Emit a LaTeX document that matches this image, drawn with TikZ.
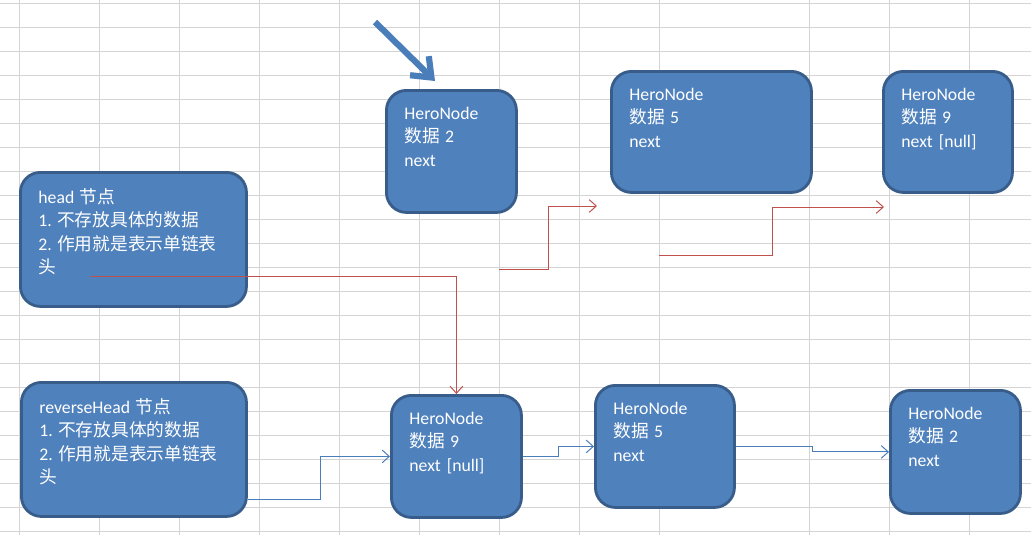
\documentclass[tikz,border=0pt]{standalone}
\usepackage{fontspec}
\setmainfont{Carlito}
\newfontfamily\cjk{Noto Sans CJK SC}
\usetikzlibrary{arrows.meta,calc}
\definecolor{boxfill}{HTML}{4F81BD}
\definecolor{boxline}{HTML}{385D8A}
\definecolor{redline}{HTML}{C0504D}
\definecolor{blueline}{HTML}{4A7EBB}
\definecolor{gridline}{HTML}{D4D4D4}
\newcommand{\zh}[1]{{\cjk #1}}
\newcommand{\gap}{\hspace{0.3em}}

\begin{document}
\begin{tikzpicture}[x=0.025cm, y=-0.025cm]

    \tikzstyle{block} = [draw=boxline, fill=boxfill, line width=2pt, rounded corners=0.5cm, anchor=north west, align=left, text=white, inner xsep=0.45cm, inner ysep=0pt, text height=0.725cm, font=\fontsize{12.6pt}{16.7pt}\selectfont]
    \tikzstyle{rlink} = [draw=redline, line width=0.7pt, -{Straight Barb[length=5pt,width=9pt]}]
    \tikzstyle{blink} = [draw=blueline, line width=0.7pt, -{Straight Barb[length=5pt,width=9pt]}]

    \fill[white] (0,0) rectangle (1031,535);
    \useasboundingbox (0,0) rectangle (1031,535);
    \foreach \y in {3,27,...,531}
        \draw[gridline, line width=0.7pt] (0,\y) -- (1031,\y);
    \foreach \x in {19,99,...,659}
        \draw[gridline, line width=0.7pt] (\x,0) -- (\x,535);
    \foreach \x in {809,889,969}
        \draw[gridline, line width=0.7pt] (\x,0) -- (\x,535);

    \node[block, text width=4.75cm, text height=0.775cm, text depth=2.575cm] (head) at (19,171) {head\gap\zh{节点}\\1.\gap\zh{不存放具体的数据}\\2.\gap\zh{作用就是表示单链表}\\\zh{头}};
    \node[block, text width=4.725cm, text height=0.775cm, text depth=2.575cm] (rhead) at (20,381) {reverseHead\gap\zh{节点}\\1.\gap\zh{不存放具体的数据}\\2.\gap\zh{作用就是表示单链表}\\\zh{头}};

    \node[block, text width=2.35cm, text depth=2.325cm] (t2) at (385,89) {HeroNode\\\zh{数据}\gap 2\\next};
    \node[block, text width=4.1cm, text depth=2.3cm] (t5) at (610,70) {HeroNode\\\zh{数据}\gap 5\\next};
    \node[block, text width=2.325cm, text depth=2.3cm] (t9) at (882,70) {HeroNode\\\zh{数据}\gap 9\\next [null]};

    \node[block, text width=2.35cm, text depth=2.325cm] (b9) at (390,394) {HeroNode\\\zh{数据}\gap 9\\next [null]};
    \node[block, text width=2.575cm, text depth=2.325cm] (b5) at (594,384) {HeroNode\\\zh{数据}\gap 5\\next};
    \node[block, text width=2.35cm, text depth=2.35cm] (b2) at (889,389) {HeroNode\\\zh{数据}\gap 2\\next};

    \coordinate (p0) at (375,22);
    \coordinate (p1) at (435,81);
    \draw[blueline, line width=4.4pt, line join=round, -{Straight Barb[length=12pt,width=19pt]}] (p0) -- (p1);

    \coordinate (r1) at (90,276);
    \coordinate (r2) at (499,269);
    \coordinate (r2e) at (597,206);
    \coordinate (r3) at (659,255);
    \coordinate (r3e) at (884,207);
    \draw[rlink] (r1) -| (b9.north);
    \draw[rlink] (r2) -- ++(49,0) |- (r2e);
    \draw[rlink] (r3) -- ++(113,0) |- (r3e);

    \draw[blink] ($(rhead.east)+(0,50)$) -- ++(73,0) |- (b9.west);
    \draw[blink] (b9.east) -- ++(36,0) |- (b5.west);
    \draw[blink] (b5.east) -- ++(77,0) |- (b2.west);
\end{tikzpicture}
\end{document}
